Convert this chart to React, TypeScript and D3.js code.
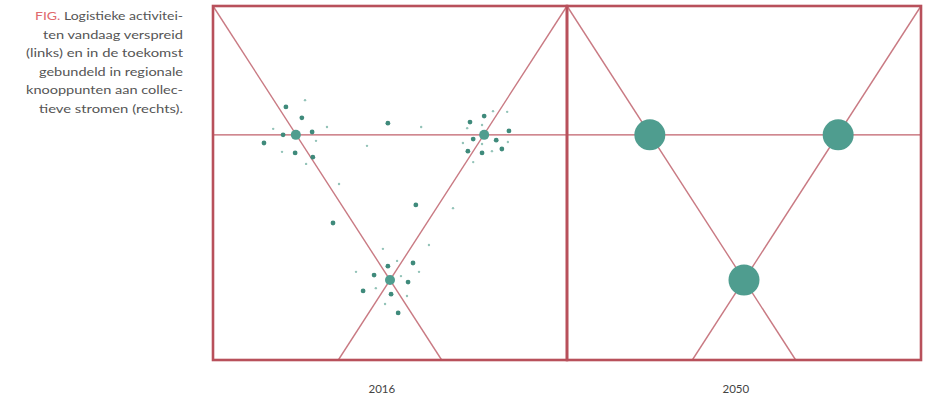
import React from "react";
import * as d3 from "d3";

const W = 945;
const H = 399;

const panelYears = ["2016", "2050"];
const captionLines = [
  "Logistieke activitei-",
  "ten vandaag verspreid",
  "(links) en in de toekomst",
  "gebundeld in regionale",
  "knooppunten aan collec-",
  "tieve stromen (rechts).",
];
const captionLead = "FIG.";
const captionWidths = [148, 140, 157, 144, 157, 144];

// hub positions in panel units (0-100)
const hubX = [23.4, 76.6, 50];
const hubY = [36.4, 36.4, 77.4];
const hubRadius2016 = 5;
const hubRadius2050 = 15.5;

// scattered activities 2016: [x, y, kind] kind m=medium, s=small
const dots2016: [number, number, string][] = [
  [20.6, 28.5, "m"], [26.0, 26.6, "s"], [25.1, 31.6, "m"], [17.0, 34.7, "s"],
  [19.8, 36.4, "m"], [28.0, 35.6, "m"], [32.2, 34.2, "s"], [14.4, 38.7, "m"],
  [29.1, 38.1, "s"], [19.5, 41.2, "s"], [23.2, 41.5, "m"], [28.2, 42.7, "m"],
  [26.3, 44.6, "s"], [43.5, 39.5, "s"], [49.4, 33.1, "m"], [58.8, 34.2, "s"],
  [35.6, 50.3, "s"],
  [72.6, 32.8, "m"], [76.6, 31.1, "m"], [79.1, 29.7, "s"], [83.1, 29.9, "s"],
  [71.8, 34.5, "s"], [76.0, 33.6, "s"], [83.6, 35.3, "m"], [73.5, 37.6, "m"],
  [80.0, 37.9, "m"], [70.6, 38.7, "s"], [76.0, 39.0, "s"], [72.0, 41.0, "m"],
  [76.0, 41.5, "m"], [78.8, 41.0, "s"], [81.6, 40.4, "m"], [83.3, 38.4, "s"],
  [73.5, 44.1, "s"],
  [57.3, 56.2, "m"], [67.8, 57.1, "s"], [33.9, 61.3, "m"],
  [48.0, 68.6, "s"], [61.0, 67.5, "s"], [52.0, 72.0, "s"], [49.4, 73.5, "m"],
  [56.5, 72.6, "m"], [40.4, 75.1, "s"], [45.5, 76.0, "m"], [53.1, 76.3, "s"],
  [55.1, 78.0, "m"], [58.2, 75.1, "s"], [42.4, 80.5, "m"], [46.0, 79.7, "s"],
  [50.3, 81.4, "m"], [54.8, 81.9, "s"], [48.6, 84.2, "s"], [52.3, 86.7, "m"],
];

const frameColor = "#b8505b";
const lineColor = "#c97a83";
const teal = "#4f9d8f";
const tealDark = "#3f8a7b";
const tealLight = "#93c3b8";

const panelLeft = 213;
const panelTop = 6;
const panelSize = 354;

function Panel({ index, year }: { index: number; year: string }) {
  const x0 = panelLeft + index * panelSize;
  const x = d3.scaleLinear().domain([0, 100]).range([x0, x0 + panelSize]);
  const y = d3.scaleLinear().domain([0, 100]).range([panelTop, panelTop + panelSize]);
  const cx = hubX[2];
  const cy = hubY[2];
  const bottomL = (cx / cy) * 100;
  const bottomR = 100 - ((100 - cx) / cy) * 100;
  const line = d3.line<[number, number]>().x((d) => x(d[0])).y((d) => y(d[1]));
  const is2016 = index === 0;
  return (
    <g>
      <path d={line([[0, 0], [bottomL, 100]]) || ""} stroke={lineColor} strokeWidth={1.4} fill="none" />
      <path d={line([[100, 0], [bottomR, 100]]) || ""} stroke={lineColor} strokeWidth={1.4} fill="none" />
      <path d={line([[0, hubY[0]], [100, hubY[0]]]) || ""} stroke="#c0606b" strokeWidth={1.3} fill="none" />
      {is2016 &&
        dots2016.map((d, i) => (
          <circle
            key={i}
            cx={x(d[0])}
            cy={y(d[1])}
            r={d[2] === "m" ? 2.4 : 1.2}
            fill={d[2] === "m" ? tealDark : tealLight}
          />
        ))}
      {hubX.map((hx, i) => (
        <circle key={"h" + i} cx={x(hx)} cy={y(hubY[i])} r={is2016 ? hubRadius2016 : hubRadius2050} fill={teal} />
      ))}
      <rect
        x={x(0)}
        y={y(0)}
        width={x(100) - x(0)}
        height={y(100) - y(0)}
        fill="none"
        stroke={frameColor}
        strokeWidth={2.6}
      />
      <text
        x={x(47.7)}
        y={393}
        textAnchor="middle"
        fontFamily="Lato, 'Open Sans', sans-serif"
        fontSize={11.5}
        fill="#444"
      >
        {year}
      </text>
    </g>
  );
}

export default function App() {
  return (
    <svg width={W} height={H} style={{ position: "absolute", left: 0, top: 0, background: "#fff" }}>
      <rect width={W} height={H} fill="#fff" />
      {captionLines.map((t, i) => (
        <text
          key={i}
          x={183 - captionWidths[i]}
          y={20 + i * 18.6}
          textLength={captionWidths[i]}
          lengthAdjust="spacingAndGlyphs"
          fontFamily="Lato, 'Open Sans', sans-serif"
          fontSize={11}
          fill="#555"
        >
          {i === 0 && <tspan fill="#e06a6e">{captionLead + " "}</tspan>}
          {t}
        </text>
      ))}
      {panelYears.map((yr, i) => (
        <Panel key={yr} index={i} year={yr} />
      ))}
    </svg>
  );
}
